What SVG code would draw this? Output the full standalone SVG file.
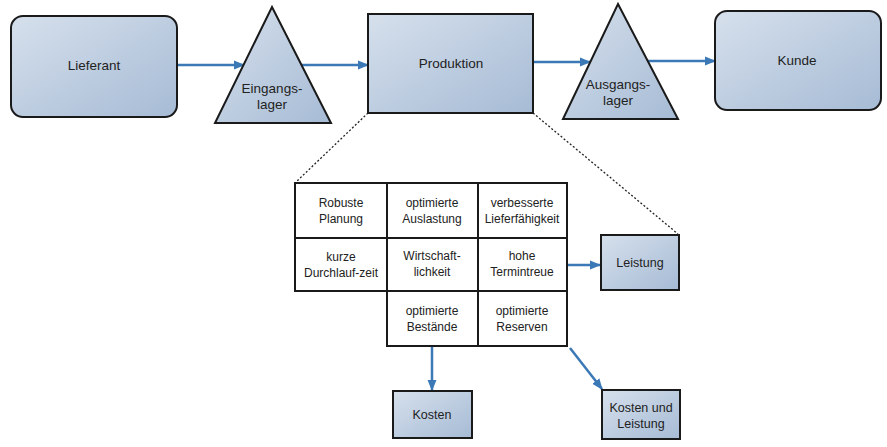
<svg xmlns="http://www.w3.org/2000/svg" width="887" height="447" viewBox="0 0 887 447">
<defs>
<linearGradient id="g" x1="0" y1="0" x2="1" y2="1">
<stop offset="0" stop-color="#d6e0ec"/>
<stop offset="1" stop-color="#a6bbd5"/>
</linearGradient>
<marker id="ah" viewBox="0 0 10 10" refX="9" refY="5" markerWidth="4.5" markerHeight="4.5" orient="auto" markerUnits="strokeWidth">
<path d="M0,1 L10,5 L0,9 z" fill="#3b78b6"/>
</marker>
<style>
.n{fill:url(#g);stroke:#1a1a1a;stroke-width:2}
.c{fill:#fff;stroke:#1a1a1a;stroke-width:2}
.t{font-family:"Liberation Sans",Arial,sans-serif;font-size:13.5px;fill:#222;text-anchor:middle}
.s{font-family:"Liberation Sans",Arial,sans-serif;font-size:12px;fill:#222;text-anchor:middle}
.b{font-family:"Liberation Sans",Arial,sans-serif;font-size:12.5px;fill:#222;text-anchor:middle}
.a{stroke:#3b78b6;stroke-width:2.5;fill:none;marker-end:url(#ah)}
.d{stroke:#222;stroke-width:1.3;stroke-dasharray:2,2;fill:none}
</style>
</defs>
<rect width="887" height="447" fill="#fff"/>
<g id="connectors">
<line class="a" x1="177" y1="65" x2="244" y2="65"/>
<line class="a" x1="300" y1="65" x2="368" y2="65"/>
<line class="a" x1="533" y1="62" x2="590" y2="62"/>
<line class="a" x1="647" y1="61" x2="715" y2="61"/>
<line class="a" x1="567" y1="265" x2="600" y2="265"/>
<line class="a" x1="432" y1="347" x2="432" y2="390"/>
<line class="a" x1="570" y1="348" x2="602" y2="389"/>
<line class="d" x1="368" y1="113" x2="296" y2="182"/>
<line class="d" x1="533" y1="113" x2="678" y2="234"/>
</g>
<g id="lieferant">
<rect class="n" x="11" y="16" width="166" height="101" rx="12"/>
<text class="t" x="94" y="70">Lieferant</text>
</g>
<g id="eingangslager">
<polygon class="n" points="272,7 331,123 215,123"/>
<text class="t" x="272" y="93">Eingangs-</text>
<text class="t" x="272" y="109">lager</text>
</g>
<g id="produktion">
<rect class="n" x="368" y="14" width="165" height="99"/>
<text class="t" x="451" y="68">Produktion</text>
</g>
<g id="ausgangslager">
<polygon class="n" points="618,4 678,119 563,119"/>
<text class="t" x="618" y="89">Ausgangs-</text>
<text class="t" x="618" y="105">lager</text>
</g>
<g id="kunde">
<rect class="n" x="715" y="11" width="166" height="99" rx="12"/>
<text class="t" x="797" y="65">Kunde</text>
</g>
<g id="grid">
<rect class="c" x="295" y="183" width="92" height="55"/>
<rect class="c" x="387" y="183" width="91" height="55"/>
<rect class="c" x="478" y="183" width="89" height="55"/>
<rect class="c" x="295" y="238" width="92" height="53"/>
<rect class="c" x="387" y="238" width="91" height="53"/>
<rect class="c" x="478" y="238" width="89" height="53"/>
<rect class="c" x="387" y="291" width="91" height="55"/>
<rect class="c" x="478" y="291" width="89" height="55"/>
<text class="s" x="341" y="207">Robuste</text>
<text class="s" x="341" y="223">Planung</text>
<text class="s" x="432" y="207">optimierte</text>
<text class="s" x="432" y="223">Auslastung</text>
<text class="s" x="522" y="207">verbesserte</text>
<text class="s" x="522" y="223">Lieferfähigkeit</text>
<text class="s" x="341" y="261">kurze</text>
<text class="s" x="341" y="277">Durchlauf-zeit</text>
<text class="s" x="432" y="260">Wirtschaft-</text>
<text class="s" x="432" y="276">lichkeit</text>
<text class="s" x="522" y="260">hohe</text>
<text class="s" x="522" y="276">Termintreue</text>
<text class="s" x="432" y="315">optimierte</text>
<text class="s" x="432" y="331">Bestände</text>
<text class="s" x="522" y="315">optimierte</text>
<text class="s" x="522" y="331">Reserven</text>
</g>
<g id="leistung">
<rect class="n" x="601" y="235" width="78" height="55"/>
<text class="b" x="640" y="267">Leistung</text>
</g>
<g id="kosten">
<rect class="n" x="393" y="391" width="79" height="47"/>
<text class="b" x="432" y="419">Kosten</text>
</g>
<g id="kostenundleistung">
<rect class="n" x="602" y="390" width="78" height="49"/>
<text class="b" x="641" y="412">Kosten und</text>
<text class="b" x="641" y="428">Leistung</text>
</g>
</svg>
